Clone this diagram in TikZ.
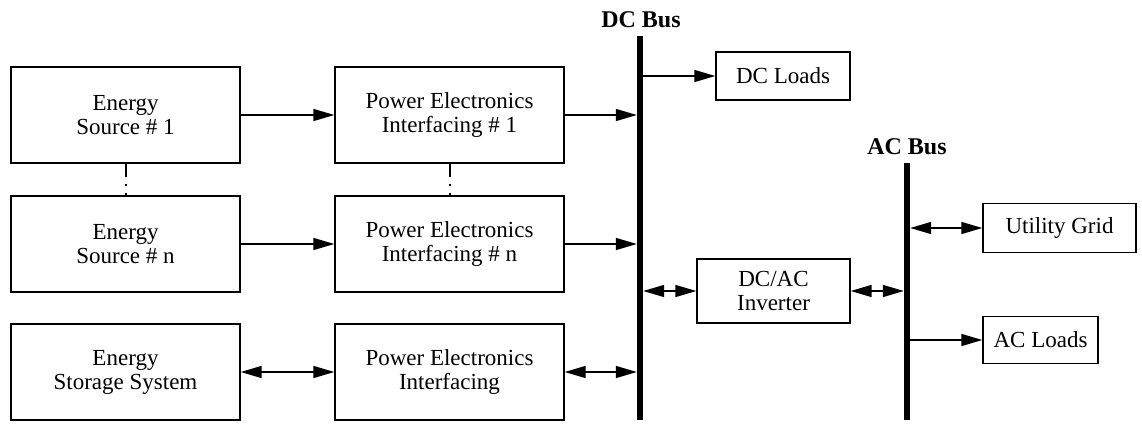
\documentclass[tikz,border=0pt]{standalone}
\usepackage{fontspec}
\setmainfont{Liberation Serif}
\usetikzlibrary{arrows.meta}
\begin{document}
\begin{tikzpicture}[x=1pt,y=-1pt,
  box/.style={draw, line width=1.4pt, align=center, inner sep=0pt,
    font=\fontsize{23}{24}\selectfont},
  bigbox/.style={box, minimum width=229pt, minimum height=96pt},
  bus/.style={fill=black, inner sep=0pt, minimum width=6pt},
  buslabel/.style={font=\fontsize{24}{26}\selectfont\bfseries, inner sep=0pt},
  conn/.style={line width=1.5pt, -{Triangle[length=21pt,width=12pt]}},
  biconn/.style={line width=1.5pt, {Triangle[length=21pt,width=12pt]}-{Triangle[length=21pt,width=12pt]}},
  dotline/.style={line width=2pt, dash pattern=on 13pt off 7pt on 2pt off 7pt}]
\useasboundingbox (0,0) rectangle (1142,423);
% boxes
\node[bigbox] (es1) at (125.5,115) {Energy\\Source \# 1};
\node[bigbox] (esn) at (125.5,244) {Energy\\Source \# n};
\node[bigbox] (ess) at (125.5,372) {Energy\\Storage System};
\node[bigbox] (pe1) at (449.5,115) {Power Electronics\\Interfacing \# 1};
\node[bigbox] (pen) at (449.5,244) {Power Electronics\\Interfacing \# n};
\node[bigbox] (pes) at (449.5,372) {Power Electronics\\Interfacing};
\node[box, minimum width=134pt, minimum height=48pt] (dcl) at (783,76) {DC Loads};
\node[box, minimum width=153pt, minimum height=64pt] (inv) at (773.5,291) {DC/AC\\Inverter};
\node[box, minimum width=153pt, minimum height=49pt] (ug) at (1059.5,228) {Utility Grid};
\node[box, minimum width=115pt, minimum height=47pt] (acl) at (1040.5,340) {AC Loads};
% buses
\node[bus, minimum height=384pt] (dcbus) at (640,228) {};
\node[bus, minimum height=257pt] (acbus) at (907,291.5) {};
\node[buslabel] (dclab) at (641,20) {DC Bus};
\node[buslabel] (aclab) at (907,147) {AC Bus};
% connectors
\draw[conn] (es1.east) -- (pe1.west);
\draw[conn] (esn.east) -- (esn.east -| pen.west);
\draw[biconn] (ess.east) -- (ess.east -| pes.west);
\draw[conn] (pe1.east) -- (pe1.east -| dcbus.west);
\draw[conn] (pen.east) -- (pen.east -| dcbus.west);
\draw[biconn] (pes.east) -- (pes.east -| dcbus.west);
\draw[conn] (dcbus.east |- dcl.west) -- (dcl.west);
\draw[biconn] (dcbus.east |- inv.west) -- (inv.west);
\draw[biconn] (inv.east) -- (inv.east -| acbus.west);
\draw[biconn] (acbus.east |- ug.west) -- (ug.west);
\draw[conn] (acbus.east |- acl.west) -- (acl.west);
% dotted continuation
\draw[dotline] (es1.south) -- (esn.north);
\draw[dotline] (pe1.south) -- (pen.north);
\end{tikzpicture}
\end{document}
